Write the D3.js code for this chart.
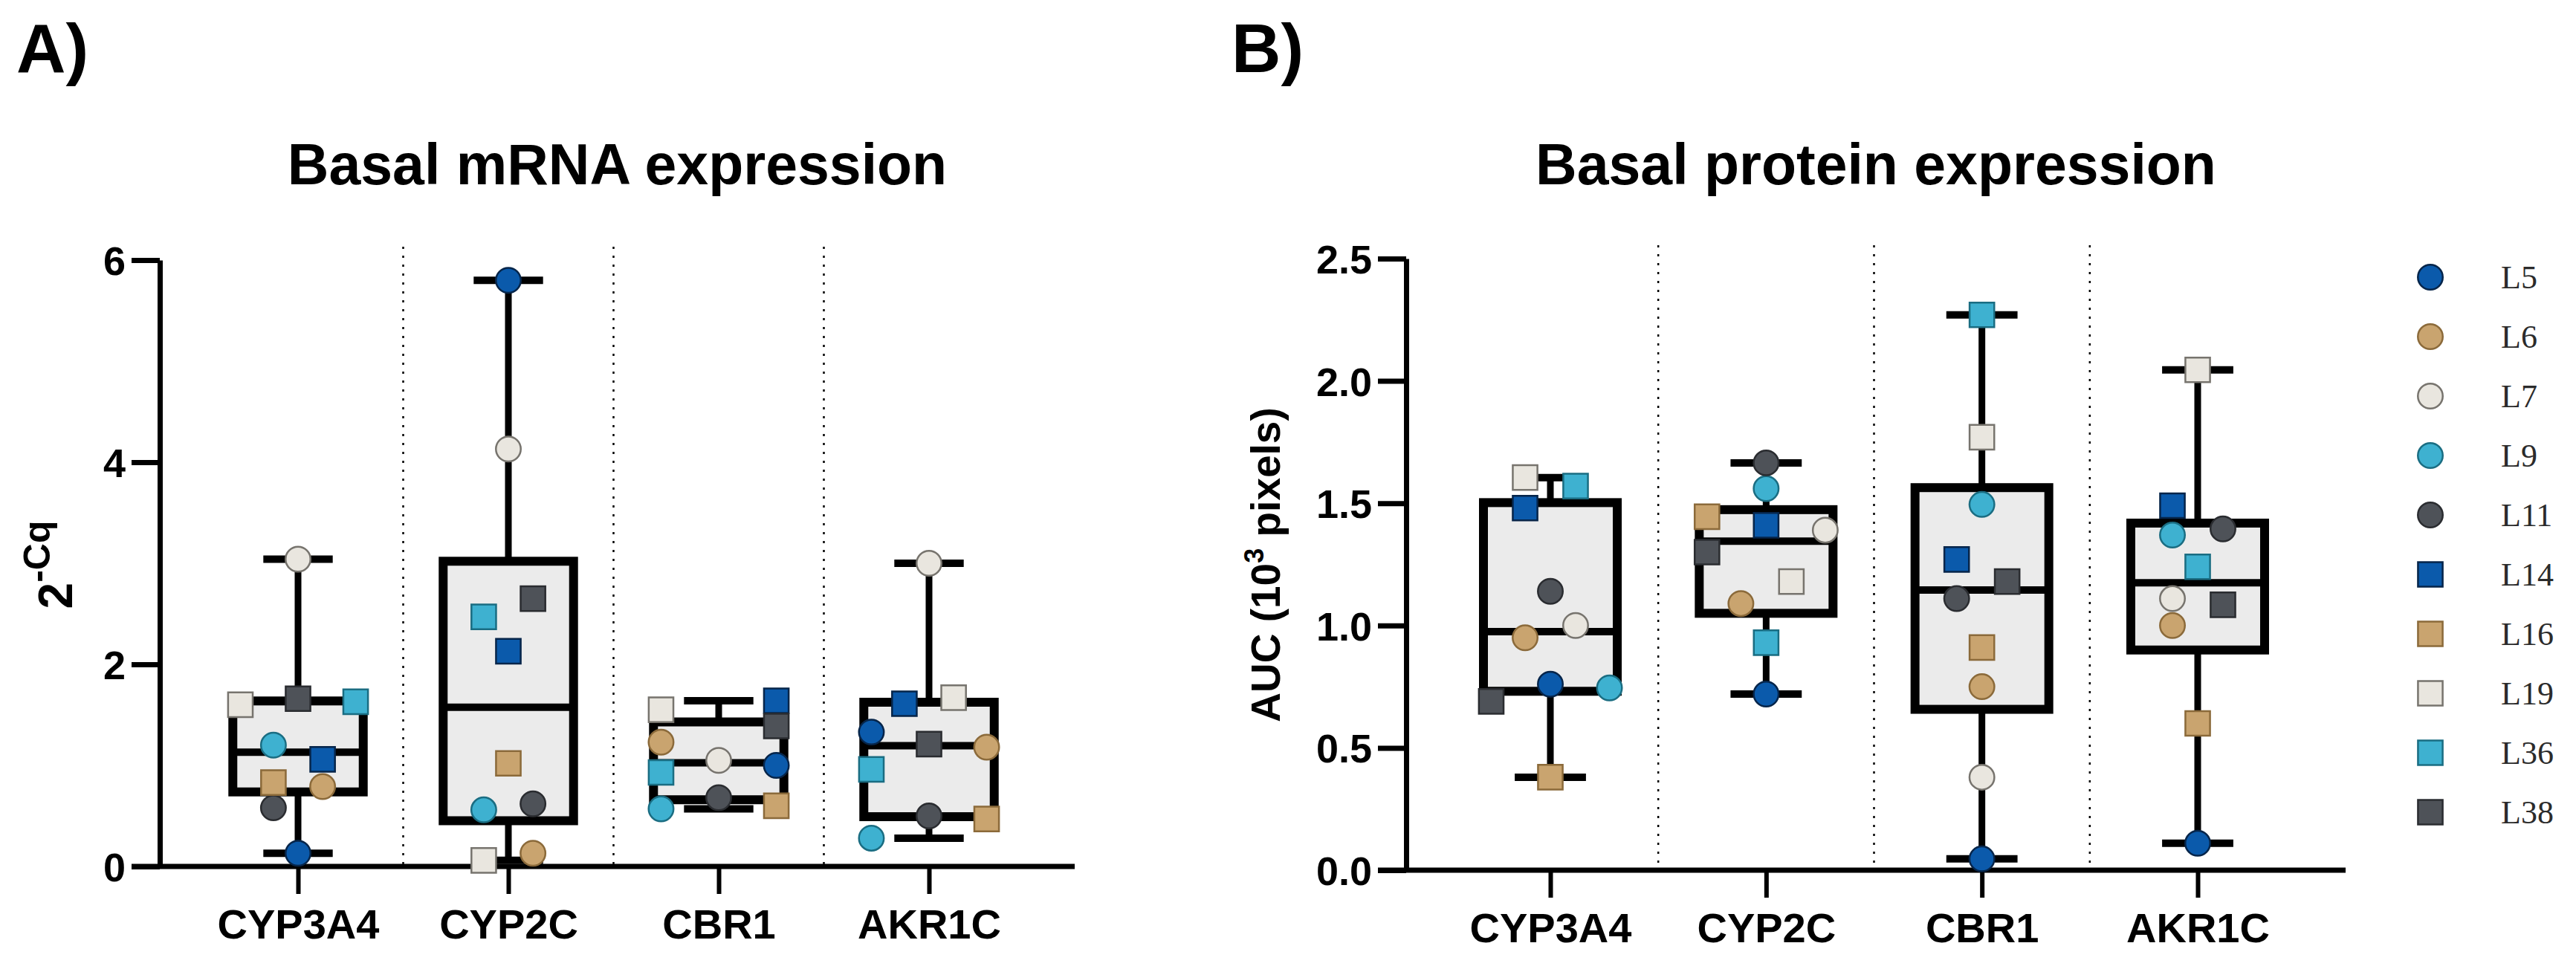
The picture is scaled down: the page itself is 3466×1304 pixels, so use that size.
<!DOCTYPE html>
<html>
<head>
<meta charset="utf-8">
<script src="https://cdn.jsdelivr.net/npm/d3@7"></script>
<style>
  html, body { margin: 0; padding: 0; background: #fff; }
  svg { display: block; }
  text { font-family: "Liberation Sans", Arial, sans-serif; font-weight: bold; fill: #000; }
</style>
</head>
<body>
<svg id="chart" width="3466" height="1304"></svg>
<script>
// cell lines (legend order) and genes (x categories)
const lines = ["L5", "L6", "L7", "L9", "L11", "L14", "L16", "L19", "L36", "L38"];
const genes = ["CYP3A4", "CYP2C", "CBR1", "AKR1C"];

// A) basal mRNA, 2^-Cq, values in the order of `lines`
const mrnaCYP3A4 = [0.13, 0.79, 3.04, 1.20, 0.58, 1.06, 0.83, 1.60, 1.63, 1.66];
const mrnaCYP2C  = [5.80, 0.13, 4.13, 0.56, 0.62, 2.13, 1.02, 0.06, 2.47, 2.65];
const mrnaCBR1   = [1.00, 1.23, 1.05, 0.57, 0.68, 1.64, 0.60, 1.55, 0.93, 1.39];
const mrnaAKR1C  = [1.33, 1.18, 3.00, 0.28, 0.50, 1.61, 0.47, 1.67, 0.96, 1.21];

// B) basal protein, AUC (10^3 pixels)
const protCYP3A4 = [0.76, 0.95, 1.00, 0.745, 1.14, 1.48, 0.38, 1.605, 1.57, 0.69];
const protCYP2C  = [0.72, 1.09, 1.39, 1.56, 1.665, 1.41, 1.445, 1.18, 0.93, 1.30];
const protCBR1   = [0.046, 0.75, 0.38, 1.495, 1.11, 1.27, 0.91, 1.77, 2.27, 1.18];
const protAKR1C  = [0.11, 1.00, 1.11, 1.37, 1.395, 1.49, 0.60, 2.045, 1.24, 1.085];

// scatter column of every point (-2 .. 2), same order as `lines`
const mrnaSpread = [
  [0, 1, 0, -1, -1, 1, -1, -2, 2, 0],
  [0, 1, 0, -1, 1, 0, 0, -1, -1, 1],
  [2, -2, 0, -2, 0, 2, 2, -2, -2, 2],
  [-2, 2, 0, -2, 0, -1, 2, 1, -2, 0]
];
const protSpread = [
  [0, -1, 1, 2, 0, -1, 0, -1, 1, -2],
  [0, -1, 2, 0, 0, 0, -2, 1, 0, -2],
  [0, 0, 0, 0, -1, -1, 0, 0, 0, 1],
  [0, -1, -1, -1, 1, -1, 0, 0, 0, 1]
];

const mrnaTicks = [0, 2, 4, 6];
const protTicks = [0, 0.5, 1.0, 1.5, 2.0, 2.5];

// colours per line (circles for the first five, squares for the rest)
const palette = [
  { fill: "#0b5aab", stroke: "#06254a" },
  { fill: "#c9a46f", stroke: "#8b6a3a" },
  { fill: "#e9e6df", stroke: "#77746e" },
  { fill: "#3eb1d0", stroke: "#1a6d82" },
  { fill: "#4e5258", stroke: "#2a2c30" }
];
const styleOf = i => palette[i % 5];
const symbolOf = i => d3.symbol()
  .type(i < 5 ? d3.symbolCircle : d3.symbolSquare)
  .size(i < 5 ? 880 : 1100)();

const svg = d3.select("#chart");

// GraphPad style quartile: position p*(n+1)
function gpQuantile(sorted, p) {
  const n = sorted.length, pos = p * (n + 1);
  if (pos <= 1) return sorted[0];
  if (pos >= n) return sorted[n - 1];
  const lo = Math.floor(pos);
  return sorted[lo - 1] + (pos - lo) * (sorted[lo] - sorted[lo - 1]);
}

function drawPanel(o) {
  const g = svg.append("g");

  const y = d3.scaleLinear().domain([0, d3.max(o.ticks)]).range([o.y0, o.yTop]);
  const x = d3.scalePoint().domain(genes).range([o.cat0, o.cat1]);
  const step = x.step();
  const spread = d3.scaleOrdinal()
    .domain([-2, -1, 0, 1, 2])
    .range([-0.274, -0.117, 0, 0.117, 0.274].map(f => f * step));

  // dotted separators between genes
  g.selectAll("line.sep")
    .data(genes.slice(1))
    .join("line")
    .attr("class", "sep")
    .attr("x1", d => x(d) - step / 2)
    .attr("x2", d => x(d) - step / 2)
    .attr("y1", o.yTop - 18)
    .attr("y2", o.y0)
    .attr("stroke", "#000")
    .attr("stroke-width", 2.5)
    .attr("stroke-dasharray", "3,9");

  // y axis
  const ya = g.append("g")
    .attr("transform", `translate(${o.x0},0)`)
    .call(d3.axisLeft(y).tickValues(o.ticks).tickFormat(o.fmt)
      .tickSize(38).tickSizeOuter(0).tickPadding(8));
  ya.select(".domain").attr("stroke-width", 7);
  ya.selectAll(".tick line").attr("stroke-width", 7);
  ya.selectAll(".tick text").attr("font-size", 54).attr("dy", "0.36em");

  // x axis line + category ticks
  g.append("line")
    .attr("x1", o.x0 - 38).attr("x2", o.xEnd)
    .attr("y1", o.y0).attr("y2", o.y0)
    .attr("stroke", "#000").attr("stroke-width", 7);

  const xa = g.append("g")
    .attr("transform", `translate(0,${o.y0})`)
    .call(d3.axisBottom(x).tickSize(37).tickPadding(20));
  xa.select(".domain").remove();
  xa.selectAll(".tick line").attr("stroke-width", 6);
  xa.selectAll(".tick text").attr("font-size", 56);

  // boxes, whiskers and points
  genes.forEach((gene, gi) => {
    const vals = o.values[gi];
    const sorted = vals.slice().sort(d3.ascending);
    const q1 = gpQuantile(sorted, 0.25);
    const q3 = gpQuantile(sorted, 0.75);
    const med = d3.median(sorted);
    const lo = sorted[0], hi = sorted[sorted.length - 1];
    const cx = x(gene);
    const bw = 0.62 * step, cw = 0.33 * step;
    const bg = g.append("g");

    bg.selectAll("line.whisker")
      .data([[hi, q3], [q1, lo]])
      .join("line")
      .attr("x1", cx).attr("x2", cx)
      .attr("y1", d => y(d[0])).attr("y2", d => y(d[1]))
      .attr("stroke", "#000").attr("stroke-width", 9);

    bg.selectAll("line.cap")
      .data([hi, lo])
      .join("line")
      .attr("x1", cx - cw / 2).attr("x2", cx + cw / 2)
      .attr("y1", d => y(d)).attr("y2", d => y(d))
      .attr("stroke", "#000").attr("stroke-width", 10);

    bg.append("rect")
      .attr("x", cx - bw / 2)
      .attr("y", y(q3))
      .attr("width", bw)
      .attr("height", y(q1) - y(q3))
      .attr("fill", "#ebebeb")
      .attr("stroke", "#000")
      .attr("stroke-width", 12);

    bg.append("line")
      .attr("x1", cx - bw / 2).attr("x2", cx + bw / 2)
      .attr("y1", y(med)).attr("y2", y(med))
      .attr("stroke", "#000").attr("stroke-width", 10);

    bg.selectAll("path.pt")
      .data(lines.map((l, i) => ({ line: l, i, v: vals[i], s: o.spread[gi][i] })))
      .join("path")
      .attr("class", "pt")
      .attr("transform", d => `translate(${cx + spread(d.s)},${y(d.v)})`)
      .attr("d", d => symbolOf(d.i))
      .attr("fill", d => styleOf(d.i).fill)
      .attr("stroke", d => styleOf(d.i).stroke)
      .attr("stroke-width", 2.5);
  });

  // title
  g.append("text")
    .attr("x", (o.x0 + o.xEnd) / 2)
    .attr("y", 248)
    .attr("text-anchor", "middle")
    .attr("font-size", 77)
    .text(o.title);

  // panel letter
  g.append("text")
    .attr("x", o.letterX)
    .attr("y", 97)
    .attr("font-size", 92)
    .text(o.letter);

  return g;
}

drawPanel({
  values: [mrnaCYP3A4, mrnaCYP2C, mrnaCBR1, mrnaAKR1C],
  spread: mrnaSpread,
  ticks: mrnaTicks,
  fmt: d3.format("d"),
  x0: 215, xEnd: 1446, cat0: 401, cat1: 1250,
  y0: 1166, yTop: 350,
  title: "Basal mRNA expression",
  letter: "A)", letterX: 22
});

drawPanel({
  values: [protCYP3A4, protCYP2C, protCBR1, protAKR1C],
  spread: protSpread,
  ticks: protTicks,
  fmt: d3.format(".1f"),
  x0: 1892, xEnd: 3156, cat0: 2086, cat1: 2957,
  y0: 1171, yTop: 348,
  title: "Basal protein expression",
  letter: "B)", letterX: 1657
});

// y axis titles
const ylabA = svg.append("text")
  .attr("transform", "translate(97,760) rotate(-90)")
  .attr("text-anchor", "middle")
  .attr("font-size", 64);
ylabA.append("tspan").text("2");
ylabA.append("tspan").attr("font-size", 50).attr("dy", -30).text("-Cq");

const ylabB = svg.append("text")
  .attr("transform", "translate(1722,760) rotate(-90)")
  .attr("text-anchor", "middle")
  .attr("font-size", 55);
ylabB.append("tspan").text("AUC (10");
ylabB.append("tspan").attr("font-size", 36).attr("dy", -22).text("3");
ylabB.append("tspan").attr("dy", 22).text(" pixels)");

// legend
const legend = svg.append("g").attr("transform", "translate(3270,373)");
const rows = legend.selectAll("g")
  .data(lines)
  .join("g")
  .attr("transform", (d, i) => `translate(0,${i * 80})`);
rows.append("path")
  .attr("d", (d, i) => symbolOf(i))
  .attr("fill", (d, i) => styleOf(i).fill)
  .attr("stroke", (d, i) => styleOf(i).stroke)
  .attr("stroke-width", 2.5);
rows.append("text")
  .attr("x", 95)
  .attr("dy", "0.35em")
  .style("font-family", "'Liberation Serif', 'Times New Roman', serif")
  .style("font-weight", "normal")
  .style("fill", "#2b2b2b")
  .attr("font-size", 44)
  .text(d => d);
</script>
</body>
</html>
